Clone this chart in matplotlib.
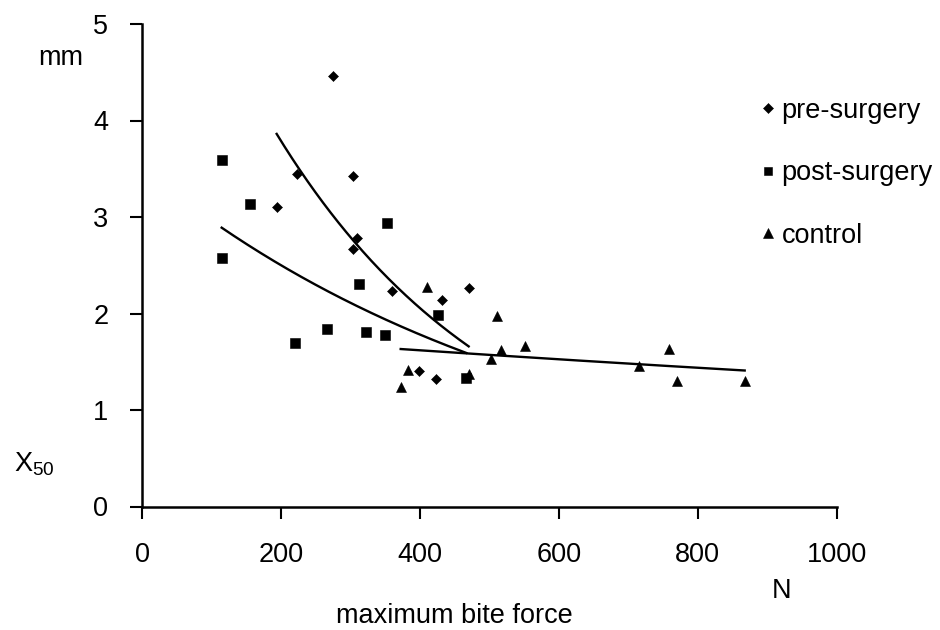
import numpy as np
import matplotlib
matplotlib.use("Agg")
import matplotlib.pyplot as plt

plt.rcParams['font.family'] = ['Liberation Sans', 'DejaVu Sans']
plt.rcParams['mathtext.default'] = 'regular'

# maximum bite force (N) and median particle size X50 (mm)
pre_force = [275.1, 222.3, 303.0, 193.5, 308.8, 304.1, 359.6, 470.0, 431.2, 398.9, 422.5]
pre_x50 = [4.46, 3.45, 3.43, 3.10, 2.78, 2.67, 2.23, 2.26, 2.14, 1.40, 1.32]

post_force = [114.3, 155.1, 352.0, 114.3, 312.5, 426.3, 265.6, 321.7, 349.5, 219.9, 466.6]
post_x50 = [3.59, 3.13, 2.94, 2.58, 2.31, 1.98, 1.84, 1.81, 1.78, 1.69, 1.33]

ctrl_force = [409.6, 511.2, 517.0, 551.6, 501.7, 382.2, 470.9, 372.1, 714.9, 758.1, 769.6, 867.5]
ctrl_x50 = [2.27, 1.97, 1.62, 1.66, 1.53, 1.41, 1.37, 1.24, 1.46, 1.63, 1.30, 1.30]

groups = ['pre-surgery', 'post-surgery', 'control']
x_ticks = [0, 200, 400, 600, 800, 1000]
y_ticks = [0, 1, 2, 3, 4, 5]

W, H = 940, 630
fig = plt.figure(figsize=(W / 100, H / 100), dpi=100)
ax = fig.add_axes([142.3 / W, 1 - 506.5 / H, (836.7 - 142.3) / W, (506.5 - 24) / H])

series = [
    (pre_force, pre_x50, 'D', 5.4),
    (post_force, post_x50, 's', 7.0),
    (ctrl_force, ctrl_x50, '^', 7.4),
]

handles = []
for (fx, fy, mk, ms), name in zip(series, groups):
    h, = ax.plot(fx, fy, linestyle='none', marker=mk, markersize=ms,
                 color='black', markeredgewidth=0.4, label=name, clip_on=False)
    handles.append(h)
    # exponential trendline y = a * exp(b x) over the data range
    b, ln_a = np.polyfit(fx, np.log(fy), 1)
    xs = np.linspace(min(fx), max(fx), 200)
    ax.plot(xs, np.exp(ln_a + b * xs), color='black', linewidth=1.7)

ax.set_xlim(0, 1000)
ax.set_ylim(0, 5)
ax.set_xticks(x_ticks)
ax.set_yticks(y_ticks)
ax.set_xticklabels([str(v) for v in x_ticks])
ax.set_yticklabels([str(v) for v in y_ticks])

for side in ('top', 'right'):
    ax.spines[side].set_visible(False)
for side in ('left', 'bottom'):
    ax.spines[side].set_linewidth(1.8)

ax.tick_params(axis='both', direction='out', length=8.4, width=1.5,
               labelsize=19.5, colors='black')
ax.tick_params(axis='x', pad=17)
ax.tick_params(axis='y', pad=16)

fig.text(38.3 / W, 1 - 65 / H, 'mm', ha='left', va='baseline', fontsize=19.5)
fig.text(781.3 / W, 1 - 598.3 / H, 'N', ha='center', va='baseline', fontsize=19.5)
fig.text(454 / W, 1 - 623.3 / H, 'maximum bite force', ha='center',
         va='baseline', fontsize=19.5)
fig.text(14 / W, 1 - 472 / H, r'X$_{50}$', ha='left', va='baseline', fontsize=19.5)

ax.legend(handles=handles, loc='center left',
          bbox_to_anchor=(762.6 / W, 1 - 173.3 / H),
          bbox_transform=fig.transFigure, frameon=False, fontsize=19.5,
          handlelength=0.4, handletextpad=0.3, labelspacing=1.35,
          borderpad=0, borderaxespad=0, markerscale=0.92)

fig.savefig('out.png', dpi=100)
